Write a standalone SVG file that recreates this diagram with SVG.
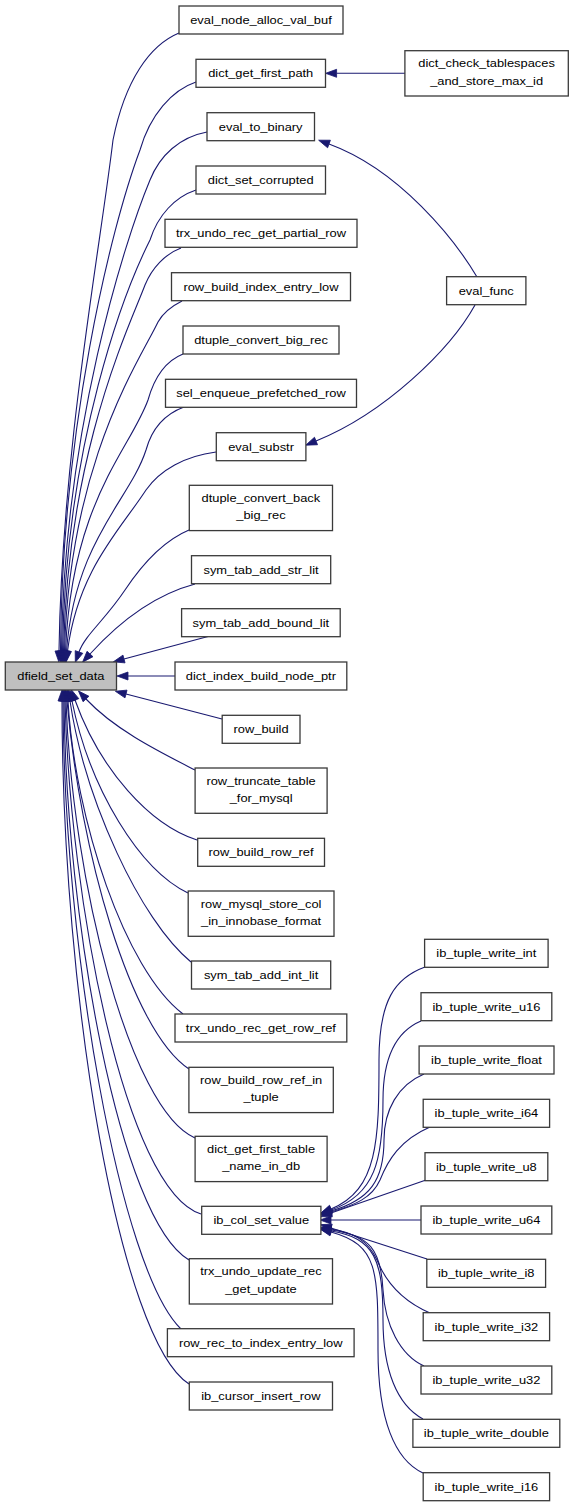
<svg xmlns="http://www.w3.org/2000/svg" width="573" height="1507" viewBox="0 0 573 1507">
<style>
.node rect { fill: #ffffff; stroke: #3a3a3a; stroke-width: 1.3; }
.node rect.cur { fill: #bfbfbf; }
.node text { font-family: "Liberation Sans", Arial, Helvetica, sans-serif; font-size: 11.5px; fill: #000000; text-anchor: middle; transform-box: fill-box; transform-origin: center; transform: scaleX(1.12); }
#edges path { fill: none; stroke: #191970; stroke-width: 1.1; marker-end: url(#arr); }
</style>
<defs>
<marker id="arr" markerUnits="userSpaceOnUse" viewBox="0 0 11 8" markerWidth="11" markerHeight="8" refX="0" refY="4" orient="auto" overflow="visible">
<path d="M0,0 L11,4 L0,8 z" fill="#191970" stroke="#191970" stroke-width="0.8"/>
</marker>
</defs>
<rect x="0" y="0" width="573" height="1507" fill="#ffffff"/>
<g id="edges">
<path d="M179,33 C150,45 125,80 113,140 C100,250 62,450 59,651"/>
<path d="M196,82 C172,90 150,115 140,150 C110,230 62,430 60.5,651"/>
<path d="M207,132 C180,137 160,155 150,180 C125,240 64,430 61.5,651"/>
<path d="M196,190 C175,197 158,215 150,240 C125,290 66,440 62.5,651"/>
<path d="M181,248 C165,254 152,268 145,285 C130,325 68,450 63.5,651"/>
<path d="M182,301 C172,306 163,313 158,322 C140,360 70,460 64.5,651"/>
<path d="M183,354 C168,360 155,375 148,400 C130,450 72,500 65.5,651"/>
<path d="M184,407 C165,414 152,428 146,450 C130,500 75,540 66.5,651"/>
<path d="M216,452 C185,456 160,470 146,490 C120,530 78,570 67.5,651"/>
<path d="M189,530 C165,540 145,560 125,590 C105,620 85,635 79,652"/>
<path d="M195,584 C165,592 130,610 90,654"/>
<path d="M208,636.5 L124,659"/>
<path d="M175,676 L128,676"/>
<path d="M222,719 L126,694"/>
<path d="M195,770 C160,752 115,730 86,699"/>
<path d="M197,840 C150,825 100,770 75,700"/>
<path d="M188,893 C140,870 90,790 72,701"/>
<path d="M191,962 C140,920 85,800 70,701"/>
<path d="M183,1014 C125,970 75,820 68,701"/>
<path d="M189,1069 C130,1030 80,850 67,701"/>
<path d="M195,1138 C130,1110 72,880 66,701"/>
<path d="M201,1214 C125,1190 70,900 65,701"/>
<path d="M189,1260 C120,1220 66,920 64,701"/>
<path d="M181,1329 C120,1270 64,950 63,701"/>
<path d="M189,1384 C120,1340 62,1000 62,701"/>
<path d="M405,73.3 L336.6,73.3"/>
<path d="M477,277 C455,240 400,170 329,144"/>
<path d="M475,305 C450,350 385,413 316,441"/>
<path d="M425,967 C395,978 379,1000 379,1060 C379,1140 378,1190 331,1209"/>
<path d="M421,1021 C395,1032 383,1060 383,1100 C383,1160 375,1195 331,1210"/>
<path d="M424,1074 C398,1085 384,1110 384,1140 C384,1180 370,1200 331,1211"/>
<path d="M430,1127 C400,1140 388,1160 380,1180 C372,1198 355,1205 331,1212"/>
<path d="M426,1180 L331,1213"/>
<path d="M421,1220 L331,1220"/>
<path d="M427,1259 L331,1228"/>
<path d="M430,1313 C400,1300 385,1280 377,1260 C368,1240 352,1232 331,1229"/>
<path d="M424,1366 C400,1355 385,1325 383,1290 C381,1250 370,1235 331,1230"/>
<path d="M423,1419 C397,1405 383,1370 383,1320 C383,1260 375,1238 331,1231"/>
<path d="M423,1473 C395,1460 378,1420 378,1350 C378,1270 378,1245 331,1232"/>
</g>
<g id="n_dfield_set_data" class="node"><rect class="cur" x="5.3" y="662" width="111.2" height="28"/><text x="60.9" y="680">dfield_set_data</text></g>
<g id="n_eval_node_alloc_val_buf" class="node"><rect x="179" y="6" width="164" height="28"/><text x="261" y="24">eval_node_alloc_val_buf</text></g>
<g id="n_dict_get_first_path" class="node"><rect x="196" y="59.3" width="129.5" height="28"/><text x="260.75" y="77.3">dict_get_first_path</text></g>
<g id="n_eval_to_binary" class="node"><rect x="207" y="112.7" width="107.5" height="28"/><text x="260.75" y="130.7">eval_to_binary</text></g>
<g id="n_dict_set_corrupted" class="node"><rect x="196" y="166" width="129.5" height="28"/><text x="260.75" y="184">dict_set_corrupted</text></g>
<g id="n_trx_undo_rec_get_partial_row" class="node"><rect x="165" y="219.3" width="192" height="28"/><text x="261" y="237.3">trx_undo_rec_get_partial_row</text></g>
<g id="n_row_build_index_entry_low" class="node"><rect x="171.5" y="272.7" width="179" height="28"/><text x="261" y="290.7">row_build_index_entry_low</text></g>
<g id="n_dtuple_convert_big_rec" class="node"><rect x="183" y="326" width="156" height="28"/><text x="261" y="344">dtuple_convert_big_rec</text></g>
<g id="n_sel_enqueue_prefetched_row" class="node"><rect x="165.5" y="379.3" width="191" height="28"/><text x="261" y="397.3">sel_enqueue_prefetched_row</text></g>
<g id="n_eval_substr" class="node"><rect x="216.3" y="432.7" width="89.6" height="28"/><text x="261.1" y="450.7">eval_substr</text></g>
<g id="n_dtuple_convert_back_big_rec" class="node"><rect x="189.3" y="485.3" width="143.2" height="45.3"/><text x="260.9" y="502">dtuple_convert_back</text><text x="260.9" y="519.5">_big_rec</text></g>
<g id="n_sym_tab_add_str_lit" class="node"><rect x="191.5" y="555.7" width="139.2" height="28"/><text x="261.1" y="573.7">sym_tab_add_str_lit</text></g>
<g id="n_sym_tab_add_bound_lit" class="node"><rect x="181.6" y="608.7" width="158.6" height="28"/><text x="260.9" y="626.7">sym_tab_add_bound_lit</text></g>
<g id="n_dict_index_build_node_ptr" class="node"><rect x="175" y="662" width="171.8" height="28"/><text x="260.9" y="680">dict_index_build_node_ptr</text></g>
<g id="n_row_build" class="node"><rect x="222.2" y="715.3" width="77.8" height="28"/><text x="261.1" y="733.3">row_build</text></g>
<g id="n_row_truncate_table_for_mysql" class="node"><rect x="195.1" y="768" width="132" height="45.3"/><text x="261.1" y="784.6">row_truncate_table</text><text x="261.1" y="802.1">_for_mysql</text></g>
<g id="n_row_build_row_ref" class="node"><rect x="197.7" y="838.3" width="126.8" height="28"/><text x="261.1" y="856.3">row_build_row_ref</text></g>
<g id="n_row_mysql_store_col_in_innobase_format" class="node"><rect x="188.2" y="891" width="145.8" height="45.3"/><text x="261.1" y="907.6">row_mysql_store_col</text><text x="261.1" y="925.1">_in_innobase_format</text></g>
<g id="n_sym_tab_add_int_lit" class="node"><rect x="191.5" y="961" width="139.2" height="28"/><text x="261.1" y="979">sym_tab_add_int_lit</text></g>
<g id="n_trx_undo_rec_get_row_ref" class="node"><rect x="175" y="1014" width="171.8" height="28"/><text x="260.9" y="1032">trx_undo_rec_get_row_ref</text></g>
<g id="n_row_build_row_ref_in_tuple" class="node"><rect x="188.9" y="1067.3" width="144.4" height="45.3"/><text x="261.1" y="1084">row_build_row_ref_in</text><text x="261.1" y="1101.5">_tuple</text></g>
<g id="n_dict_get_first_table_name_in_db" class="node"><rect x="195.1" y="1136.3" width="132" height="45.3"/><text x="261.1" y="1153">dict_get_first_table</text><text x="261.1" y="1170.5">_name_in_db</text></g>
<g id="n_ib_col_set_value" class="node"><rect x="201.7" y="1206.3" width="119.2" height="28"/><text x="261.3" y="1224.3">ib_col_set_value</text></g>
<g id="n_trx_undo_update_rec_get_update" class="node"><rect x="189.3" y="1258.7" width="143.2" height="45.3"/><text x="260.9" y="1275.4">trx_undo_update_rec</text><text x="260.9" y="1292.9">_get_update</text></g>
<g id="n_row_rec_to_index_entry_low" class="node"><rect x="167.4" y="1328.7" width="186.7" height="28"/><text x="260.75" y="1346.7">row_rec_to_index_entry_low</text></g>
<g id="n_ib_cursor_insert_row" class="node"><rect x="189.3" y="1382" width="143.2" height="28"/><text x="260.9" y="1400">ib_cursor_insert_row</text></g>
<g id="n_dict_check_tablespaces_and_store_max_id" class="node"><rect x="404.9" y="50.7" width="163.4" height="45.3"/><text x="486.6" y="67.4">dict_check_tablespaces</text><text x="486.6" y="84.9">_and_store_max_id</text></g>
<g id="n_eval_func" class="node"><rect x="446.6" y="276.7" width="79.3" height="28"/><text x="486.25" y="294.7">eval_func</text></g>
<g id="n_ib_tuple_write_int" class="node"><rect x="424.6" y="939.3" width="123.5" height="28"/><text x="486.35" y="957.3">ib_tuple_write_int</text></g>
<g id="n_ib_tuple_write_u16" class="node"><rect x="421" y="992.7" width="130.8" height="28"/><text x="486.4" y="1010.7">ib_tuple_write_u16</text></g>
<g id="n_ib_tuple_write_float" class="node"><rect x="419.1" y="1046" width="134.9" height="28"/><text x="486.55" y="1064">ib_tuple_write_float</text></g>
<g id="n_ib_tuple_write_i64" class="node"><rect x="423.2" y="1099.3" width="126.4" height="28"/><text x="486.4" y="1117.3">ib_tuple_write_i64</text></g>
<g id="n_ib_tuple_write_u8" class="node"><rect x="425" y="1152.7" width="122.8" height="28"/><text x="486.4" y="1170.7">ib_tuple_write_u8</text></g>
<g id="n_ib_tuple_write_u64" class="node"><rect x="421" y="1206" width="130.8" height="28"/><text x="486.4" y="1224">ib_tuple_write_u64</text></g>
<g id="n_ib_tuple_write_i8" class="node"><rect x="426.8" y="1259.3" width="118.8" height="28"/><text x="486.2" y="1277.3">ib_tuple_write_i8</text></g>
<g id="n_ib_tuple_write_i32" class="node"><rect x="423.2" y="1312.7" width="126.4" height="28"/><text x="486.4" y="1330.7">ib_tuple_write_i32</text></g>
<g id="n_ib_tuple_write_u32" class="node"><rect x="421" y="1366" width="130.8" height="28"/><text x="486.4" y="1384">ib_tuple_write_u32</text></g>
<g id="n_ib_tuple_write_double" class="node"><rect x="412.9" y="1419.3" width="146.9" height="28"/><text x="486.35" y="1437.3">ib_tuple_write_double</text></g>
<g id="n_ib_tuple_write_i16" class="node"><rect x="423.2" y="1472.7" width="126.4" height="28"/><text x="486.4" y="1490.7">ib_tuple_write_i16</text></g>
</svg>
